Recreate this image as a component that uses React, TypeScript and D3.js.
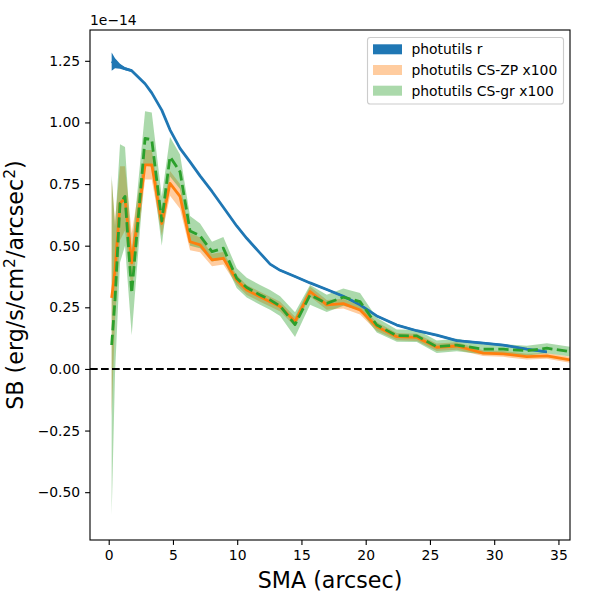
import { useRef, useEffect } from "react";
import * as d3 from "d3";

// SMA grid (arcsec)
const sma = [
  0.23, 0.49, 0.88, 1.27, 1.79, 2.83, 3.35, 4.13, 4.77, 5.55, 6.33, 7.11, 8.04,
  8.92, 9.96, 10.74, 11.78, 12.56, 13.34, 14.5, 15.67, 16.97, 18.26, 19.56,
  20.86, 22.42, 23.98, 25.53, 27.09, 29.14, 30.7, 32.54, 34.1, 35.91, 37.5,
];

// photutils r (units of 1e-14)
const rMean = [
  1.247, 1.24, 1.228, 1.218, 1.21, 1.157, 1.12, 1.05, 0.97, 0.895, 0.84, 0.783,
  0.72, 0.656, 0.58, 0.53, 0.47, 0.425, 0.4, 0.375, 0.349, 0.322, 0.295, 0.26,
  0.215, 0.178, 0.155, 0.137, 0.115, 0.105, 0.097, 0.08, 0.069, null, null,
];
const rErr = [
  0.037, 0.02, 0.01, 0.006, 0.005, 0.004, 0.004, 0.004, 0.004, 0.004, 0.004,
  0.004, 0.004, 0.004, 0.004, 0.004, 0.004, 0.004, 0.004, 0.004, 0.004, 0.004,
  0.004, 0.004, 0.004, 0.004, 0.004, 0.004, 0.004, 0.004, 0.004, 0.004, 0.004,
  null, null,
];

// photutils CS-ZP x100
const zpMean = [
  0.288, 0.4, 0.672, 0.692, 0.43, 0.828, 0.828, 0.59, 0.753, 0.7, 0.516, 0.503,
  0.442, 0.449, 0.361, 0.32, 0.293, 0.273, 0.253, 0.192, 0.314, 0.26, 0.265,
  0.239, 0.172, 0.131, 0.128, 0.088, 0.093, 0.064, 0.061, 0.05, 0.053, 0.037,
  0.025,
];
const zpErr = [
  0.48, 0.2, 0.15, 0.13, 0.12, 0.06, 0.06, 0.05, 0.05, 0.05, 0.035, 0.03, 0.025,
  0.025, 0.02, 0.02, 0.02, 0.02, 0.02, 0.02, 0.02, 0.02, 0.02, 0.018, 0.018,
  0.015, 0.015, 0.015, 0.015, 0.012, 0.012, 0.012, 0.012, 0.012, 0.012,
];

// photutils CS-gr x100
const grMean = [
  0.097, 0.28, 0.672, 0.7, 0.307, 0.935, 0.93, 0.6, 0.861, 0.8, 0.56, 0.54,
  0.476, 0.49, 0.368, 0.33, 0.3, 0.28, 0.255, 0.18, 0.3, 0.266, 0.291, 0.273,
  0.178, 0.135, 0.134, 0.09, 0.097, 0.08, 0.08, 0.074, 0.084, 0.07, 0.065,
];
const grErr = [
  0.69, 0.3, 0.24, 0.2, 0.17, 0.11, 0.11, 0.1, 0.08, 0.07, 0.06, 0.05, 0.04,
  0.045, 0.04, 0.04, 0.04, 0.04, 0.04, 0.05, 0.04, 0.035, 0.035, 0.035, 0.03,
  0.025, 0.025, 0.025, 0.025, 0.02, 0.02, 0.02, 0.02, 0.02, 0.02,
];

const xTicks = [0, 5, 10, 15, 20, 25, 30, 35];
const yTicks = [-0.5, -0.25, 0, 0.25, 0.5, 0.75, 1.0, 1.25];
const legendLabels = ["photutils r", "photutils CS-ZP x100", "photutils CS-gr x100"];

type Pt = { x: number; y: number | null; e: number | null };

export default function App() {
  const svgRef = useRef<SVGSVGElement>(null);

  useEffect(() => {
    if (!svgRef.current) return;
    const svg = d3.select(svgRef.current);
    svg.selectAll("*").remove();

    const width = 600;
    const height = 600;
    const margin = { top: 30, right: 30, bottom: 60, left: 90 };
    const font = "DejaVu Sans, sans-serif";

    const x = d3
      .scaleLinear()
      .domain([-1.456, 35.9])
      .range([margin.left, width - margin.right]);
    const y = d3
      .scaleLinear()
      .domain([-0.694, 1.375])
      .range([height - margin.bottom, margin.top]);

    svg.append("rect").attr("width", width).attr("height", height).attr("fill", "white");

    svg
      .append("defs")
      .append("clipPath")
      .attr("id", "plotclip")
      .append("rect")
      .attr("x", margin.left)
      .attr("y", margin.top)
      .attr("width", width - margin.left - margin.right)
      .attr("height", height - margin.top - margin.bottom);

    const plot = svg.append("g").attr("clip-path", "url(#plotclip)");

    const mk = (m: (number | null)[], e: (number | null)[]): Pt[] =>
      sma.map((s, i) => ({ x: s, y: m[i], e: e[i] }));

    const series = [
      { pts: mk(rMean, rErr), color: "#1f77b4", fill: "#1f77b4", alpha: 1, dash: null },
      { pts: mk(zpMean, zpErr), color: "#ff7f0e", fill: "#ff7f0e", alpha: 0.4, dash: null },
      { pts: mk(grMean, grErr), color: "#2ca02c", fill: "#2ca02c", alpha: 0.4, dash: "10.3,4.4" },
    ];

    const area = d3
      .area<Pt>()
      .defined((d) => d.y != null && d.e != null)
      .x((d) => x(d.x))
      .y0((d) => y((d.y as number) - (d.e as number)))
      .y1((d) => y((d.y as number) + (d.e as number)));

    const line = d3
      .line<Pt>()
      .defined((d) => d.y != null)
      .x((d) => x(d.x))
      .y((d) => y(d.y as number));

    // fills first (matplotlib zorder 1), then lines
    series.forEach((s) => {
      plot
        .append("path")
        .attr("d", area(s.pts))
        .attr("fill", s.fill)
        .attr("fill-opacity", s.alpha);
    });
    series.forEach((s) => {
      plot
        .append("path")
        .attr("d", line(s.pts))
        .attr("fill", "none")
        .attr("stroke", s.color)
        .attr("stroke-width", 2.78)
        .attr("stroke-linejoin", "round")
        .attr("stroke-dasharray", s.dash);
    });

    // zero line
    plot
      .append("line")
      .attr("x1", margin.left)
      .attr("x2", width - margin.right)
      .attr("y1", y(0))
      .attr("y2", y(0))
      .attr("stroke", "black")
      .attr("stroke-width", 2.08)
      .attr("stroke-dasharray", "7.7,3.3");

    // Axes
    const xAxis = svg
      .append("g")
      .attr("transform", `translate(0,${height - margin.bottom})`)
      .call(d3.axisBottom(x).tickValues(xTicks).tickSize(4.9).tickPadding(4.9).tickFormat(d3.format("d")));
    const yAxis = svg
      .append("g")
      .attr("transform", `translate(${margin.left},0)`)
      .call(d3.axisLeft(y).tickValues(yTicks).tickSize(4.9).tickPadding(4.9).tickFormat(d3.format(".2f")));
    [xAxis, yAxis].forEach((a) => {
      a.select(".domain").remove();
      a.selectAll("line").attr("stroke", "black").attr("stroke-width", 1.11);
      a.selectAll("text").attr("font-family", font).attr("font-size", 13.9).attr("fill", "black");
    });

    // frame
    svg
      .append("rect")
      .attr("x", margin.left)
      .attr("y", margin.top)
      .attr("width", width - margin.left - margin.right)
      .attr("height", height - margin.top - margin.bottom)
      .attr("fill", "none")
      .attr("stroke", "black")
      .attr("stroke-width", 1.11);

    // offset text
    svg
      .append("text")
      .attr("x", margin.left)
      .attr("y", 25)
      .attr("font-family", font)
      .attr("font-size", 13.9)
      .text("1e\u221214");

    // axis labels
    svg
      .append("text")
      .attr("x", (margin.left + width - margin.right) / 2)
      .attr("y", 588)
      .attr("text-anchor", "middle")
      .attr("font-family", font)
      .attr("font-size", 22.2)
      .text("SMA (arcsec)");

    const yl = svg
      .append("text")
      .attr("transform", `translate(23,${(margin.top + height - margin.bottom) / 2}) rotate(-90)`)
      .attr("text-anchor", "middle")
      .attr("font-family", font)
      .attr("font-size", 22.2);
    yl.append("tspan").text("SB (erg/s/cm");
    yl.append("tspan").attr("dy", -8).attr("font-size", 15.5).text("2");
    yl.append("tspan").attr("dy", 8).text("/arcsec");
    yl.append("tspan").attr("dy", -8).attr("font-size", 15.5).text("2");
    yl.append("tspan").attr("dy", 8).text(")");

    // legend
    const lg = svg.append("g");
    lg.append("rect")
      .attr("x", 367.5)
      .attr("y", 37.5)
      .attr("width", 196)
      .attr("height", 66.5)
      .attr("rx", 2.8)
      .attr("fill", "white")
      .attr("fill-opacity", 0.8)
      .attr("stroke", "#cccccc")
      .attr("stroke-width", 1.11);
    legendLabels.forEach((lab, i) => {
      const cy = 49.3 + i * 20.7;
      lg.append("rect")
        .attr("x", 373)
        .attr("y", cy - 5)
        .attr("width", 29)
        .attr("height", 10)
        .attr("fill", series[i].fill)
        .attr("fill-opacity", series[i].alpha);
      lg.append("text")
        .attr("x", 411.5)
        .attr("y", cy + 5)
        .attr("font-family", font)
        .attr("font-size", 13.9)
        .text(lab);
    });
  }, []);

  return (
    <svg
      ref={svgRef}
      width={600}
      height={600}
      style={{ position: "absolute", left: 0, top: 0 }}
    />
  );
}
